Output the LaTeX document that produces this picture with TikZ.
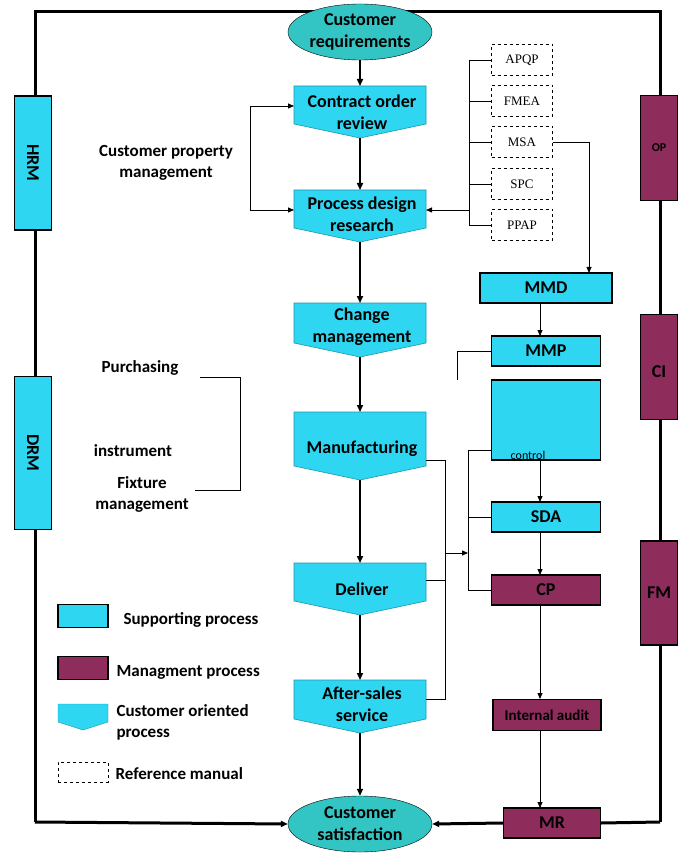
\documentclass[tikz,border=0pt]{standalone}
\usepackage{fontspec}
\setmainfont{Carlito}
\newfontfamily\serifm{Liberation Serif}
\usetikzlibrary{arrows.meta,shapes.geometric}
\definecolor{cy}{HTML}{2ED6F2}
\definecolor{tl}{HTML}{33C4C4}
\definecolor{pu}{HTML}{8E2C5C}
\tikzset{
 every node/.style={font=\bfseries\fontsize{18}{22}\selectfont},
 sup/.style={draw=black,line width=1.2pt,fill=cy,minimum height=30pt,inner sep=0pt},
 mgt/.style={draw=black,line width=1.2pt,fill=pu,minimum height=30pt,inner sep=0pt},
 ell/.style={ellipse,draw=black,fill=tl,minimum width=144pt,minimum height=56pt,inner sep=0pt,align=center},
 ref/.style={draw=black,dashed,minimum width=61pt,minimum height=31pt,font=\serifm\fontsize{13}{15}\selectfont},
 ar/.style={-{Triangle[length=7pt,width=6pt]},line width=1.6pt},
 tn/.style={-{Triangle[length=6pt,width=5pt]},line width=0.8pt},
 ln/.style={line width=0.8pt},
 frame/.style={line width=3pt},
 lbl/.style={align=center},
 side/.style={font=\bfseries\fontsize{17}{21}\selectfont}
}
\newcommand{\pentshape}[4]{% name, cx, top, bottom
 \fill[cy,draw=cy!70!black,line width=0.6pt] (#2-66,#3) -- (#2+66,#3) -- (#2+66,#4-14) -- (#2,#4) -- (#2-66,#4-14) -- cycle;
 \coordinate (#1) at (#2,#3);}
\begin{document}
\begin{tikzpicture}[x=1pt,y=-1pt]
\useasboundingbox (0,0) rectangle (693,866);
% frame
\draw[frame] (35,822) -- (35,12) -- (660,12) -- (660,822);
% central pentagons
\pentshape{p1}{360}{86}{138}
\pentshape{p2}{360}{190}{242}
\pentshape{p3}{360}{303}{357}
\pentshape{p4}{360}{412}{480}
\pentshape{p5}{360}{563}{615}
\pentshape{p6}{360}{680}{733}
\node[lbl] (t1) at (362,112) {Contract order\\review};
\node[lbl] (t2) at (362,214) {Process design\\research};
\node[lbl] (t3) at (362,327) {Change\\management};
\node[lbl] (t4) at (362,449) {Manufacturing};
\node[lbl] (t5) at (362,589) {Deliver};
\node[lbl] (t6) at (362,704) {After-sales\\service};
\node[ell] (cr) at (360,32) {Customer\\requirements};
\node[ell] (cs) at (360,824) {Customer\\satisfaction};
% central arrows
\draw[ar] (cr.south) -- (360,86);
\draw[ar] (360,138) -- (360,190);
\draw[ar] (360,242) -- (360,303);
\draw[ar] (360,357) -- (360,412);
\draw[ar] (360,480) -- (360,563);
\draw[ar] (360,615) -- (360,680);
\draw[ar] (360,733) -- (cs.north);
\draw[ar,line width=3pt] (35,822) -- (cs.west);
% customer property
\node[lbl,side] (cpm) at (166,163) {Customer property\\management};
\draw[tn] (250,106) -- (294,106);
\draw[ln] (250,106) -- (250,210);
\draw[tn] (250,210) -- (294,210);
% reference manuals
\node[ref] (r1) at (522,60) {APQP};
\node[ref] (r2) at (522,101) {FMEA};
\node[ref] (r3) at (522,142) {MSA};
\node[ref] (r4) at (522,184) {SPC};
\node[ref] (r5) at (522,225) {PPAP};
\draw[ln] (r1.west) -- (469,60) -- (469,225) -- (r5.west);
\foreach \r in {r2,r3,r4} \draw[ln] (\r.west) -- (469,0 |- \r.west);
\draw[tn] (469,210) -- (426,210);
% right column
\node[sup,minimum width=132pt] (mmd) at (546,288) {MMD};
\node[sup,minimum width=109pt] (mmp) at (546,351) {MMP};
\node[sup,minimum width=109pt,minimum height=80pt] (ctl) at (546,420) {};
\node[font=\fontsize{12}{14}\selectfont] (ctlt) at (528,455) {control};
\node[sup,minimum width=109pt] (sda) at (546,517) {SDA};
\node[mgt,minimum width=109pt] (cp) at (546,590) {CP};
\node[mgt,minimum width=108pt,minimum height=31pt,font=\bfseries\fontsize{15}{17}\selectfont] (ia) at (547,715) {Internal audit};
\node[mgt,minimum width=97pt] (mr) at (552,823) {MR};
\draw[ln] (r3.east) -- (589,142);
\draw[tn] (589,142) -- (589,273);
\draw[tn] (540,303) -- (540,336);
\draw[ln] (mmp.west) -- (457,351) -- (457,380);
\draw[tn] (540,460) -- (540,502);
\draw[tn] (540,532) -- (540,575);
\draw[tn] (540,606) -- (540,699);
\draw[tn] (540,730) -- (540,808);
\draw[ar,line width=3pt] (mr.west) -- (cs.east);
\draw[frame] (mr.east) -- (660,822);
% bracket into control/SDA/CP
\draw[ln] (492,450) -- (468,450) -- (468,590) -- (cp.west);
\draw[ln] (468,517) -- (sda.west);
\draw[ln] (426,460) -- (445,460) -- (445,699) -- (426,699);
\draw[ln] (426,580) -- (445,580);
\draw[tn] (445,553) -- (468,553);
% side boxes
\node[sup,minimum width=134pt,minimum height=37pt,rotate=-90] (hrm) at (33,163) {HRM};
\node[sup,minimum width=153pt,minimum height=37pt,rotate=-90] (drm) at (33,453) {DRM};
\node[mgt,minimum width=37pt,minimum height=105pt,font=\bfseries\fontsize{12}{14}\selectfont] (op) at (659,148) {OP};
\node[mgt,minimum width=37pt,minimum height=105pt] (ci) at (659,367) {};
\node (cit) at (659,372) {CI};
\node[mgt,minimum width=37pt,minimum height=104pt] (fm) at (659,593) {FM};
% purchasing group
\node[side] (pur) at (140,368) {Purchasing};
\node[side] (ins) at (133,451) {instrument};
\node[lbl,side] (fix) at (142,494) {Fixture\\management};
\draw[line width=0.6pt] (200,377) -- (240,377) -- (240,490) -- (195,490);
% legend
\node[sup,minimum width=50pt,minimum height=23pt] (lg1) at (83,616) {};
\node[anchor=west,side] (lg1t) at (120,620) {Supporting process};
\node[mgt,minimum width=50pt,minimum height=23pt] (lg2) at (83,668) {};
\node[anchor=west,side] (lg2t) at (113,672) {Managment process};
\fill[cy,draw=cy!70!black] (58,704) -- (108,704) -- (108,722) -- (83,730) -- (58,722) -- cycle;
\node[lbl,anchor=west,align=left,side] (lg3t) at (113,722) {Customer oriented\\process};
\node[draw,dashed,minimum width=50pt,minimum height=20pt] (lg4) at (83,772) {};
\node[anchor=west,side] (lg4t) at (112,774) {Reference manual};
\end{tikzpicture}
\end{document}
